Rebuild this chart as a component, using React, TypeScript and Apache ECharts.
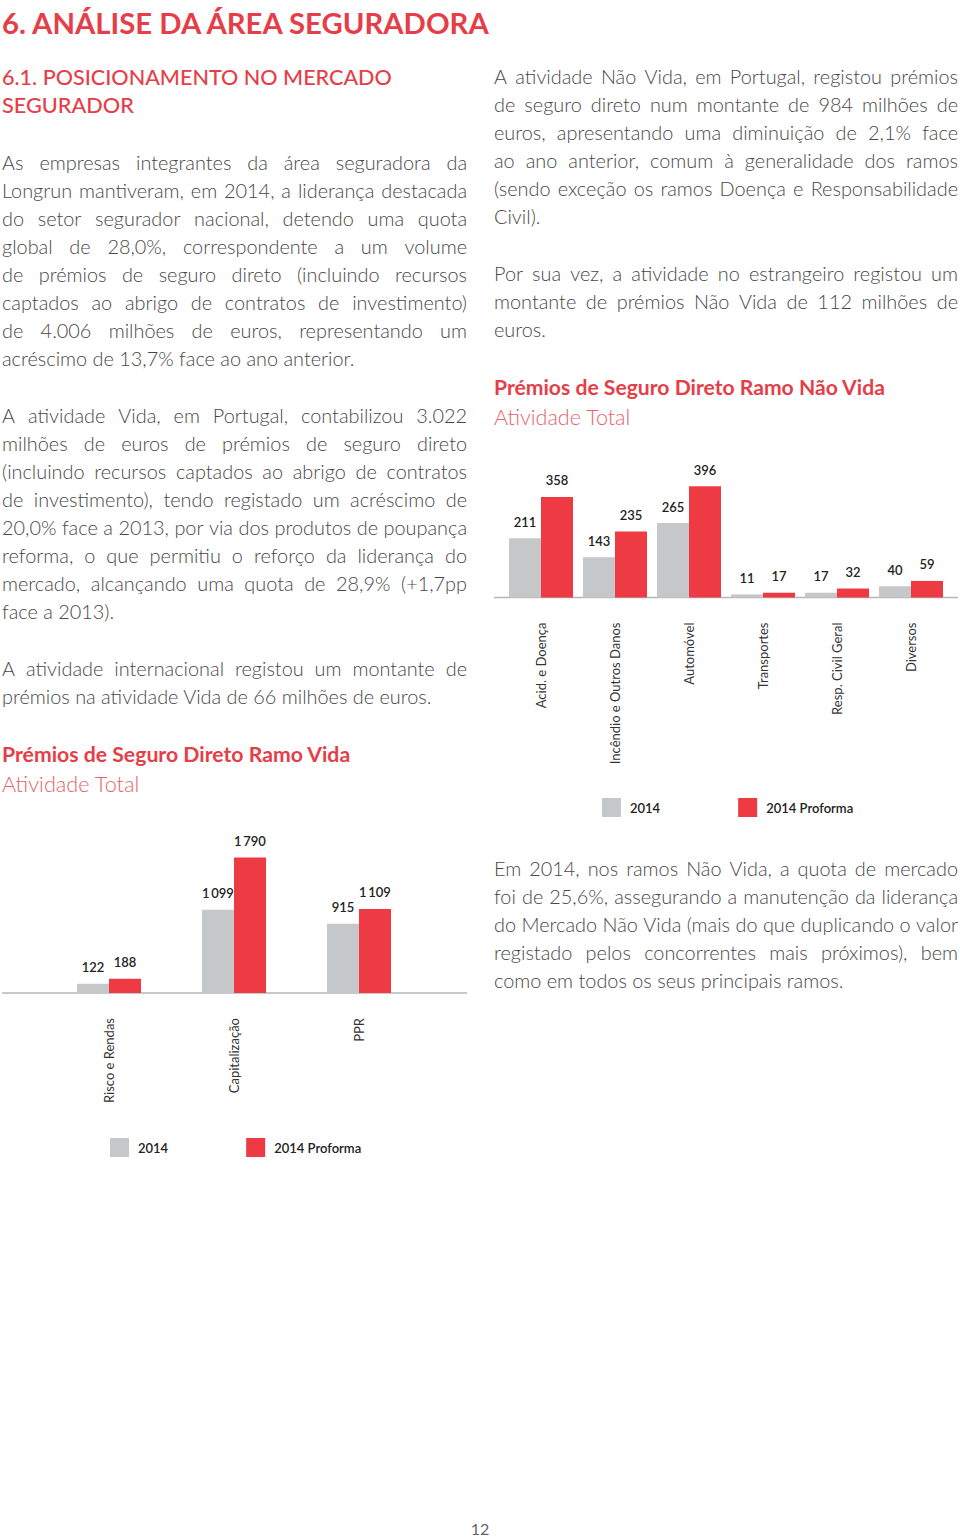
import React, { useEffect, useRef } from 'react';
import * as echarts from 'echarts';

// ---------- DATA ----------
const nonVidaCategories = ['Acid. e Doença', 'Incêndio e Outros Danos', 'Automóvel', 'Transportes', 'Resp. Civil Geral', 'Diversos'];
const nonVida2014 = [211, 143, 265, 11, 17, 40];
const nonVidaProforma = [358, 235, 396, 17, 32, 59];

const vidaCategories = ['Risco e Rendas', 'Capitalização', 'PPR'];
const vida2014 = [122, 1099, 915];
const vidaProforma = [188, 1790, 1109];

const seriesNames = ['2014', '2014 Proforma'];

// ---------- TEXT ----------
const leftP1 = [
  'As empresas integrantes da área seguradora da',
  'Longrun mantiveram, em 2014, a liderança destacada',
  'do setor segurador nacional, detendo uma quota',
  'global de 28,0%, correspondente a um volume',
  'de prémios de seguro direto (incluindo recursos',
  'captados ao abrigo de contratos de investimento)',
  'de 4.006 milhões de euros, representando um',
  'acréscimo de 13,7% face ao ano anterior.',
];
const leftP2 = [
  'A atividade Vida, em Portugal, contabilizou 3.022',
  'milhões de euros de prémios de seguro direto',
  '(incluindo recursos captados ao abrigo de contratos',
  'de investimento), tendo registado um acréscimo de',
  '20,0% face a 2013, por via dos produtos de poupança',
  'reforma, o que permitiu o reforço da liderança do',
  'mercado, alcançando uma quota de 28,9% (+1,7pp',
  'face a 2013).',
];
const leftP3 = [
  'A atividade internacional registou um montante de',
  'prémios na atividade Vida de 66 milhões de euros.',
];
const rightP1 = [
  'A atividade Não Vida, em Portugal, registou prémios',
  'de seguro direto num montante de 984 milhões de',
  'euros, apresentando uma diminuição de 2,1% face',
  'ao ano anterior, comum à generalidade dos ramos',
  '(sendo exceção os ramos Doença e Responsabilidade',
  'Civil).',
];
const rightP2 = [
  'Por sua vez, a atividade no estrangeiro registou um',
  'montante de prémios Não Vida de 112 milhões de',
  'euros.',
];
const rightP3 = [
  'Em 2014, nos ramos Não Vida, a quota de mercado',
  'foi de 25,6%, assegurando a manutenção da liderança',
  'do Mercado Não Vida (mais do que duplicando o valor',
  'registado pelos concorrentes mais próximos), bem',
  'como em todos os seus principais ramos.',
];

const FONT = 'Lato, "Noto Sans", sans-serif';
const RED = '#E63E48';
const RED_LIGHT = '#E8626B';
const BODY = '#484848';
const GREY_BAR = '#C6C7C9';
const RED_BAR = '#EE3B43';

const fmt = (n: number) =>
  n >= 1000 ? `${Math.floor(n / 1000)}\u2009${String(n % 1000).padStart(3, '0')}` : String(n);

export default function App() {
  const ref = useRef<HTMLDivElement>(null);

  useEffect(() => {
    if (!ref.current) return;
    const canvas = document.createElement('canvas');
    const ctx = canvas.getContext('2d')!;
    const measure = (t: string, size: number, weight: number | string) => {
      ctx.font = `${weight} ${size}px Lato`;
      return ctx.measureText(t).width;
    };

    const els: any[] = [];
    const textEl = (text: string, x: number, y: number, size: number, weight: number | string, color: string, align = 'left') => ({
      type: 'text',
      x,
      y,
      silent: true,
      style: { text, fill: color, fontSize: size, fontWeight: weight, fontFamily: FONT, textAlign: align, verticalAlign: 'middle' },
    });

    const fitText = (text: string, x: number, y: number, width: number, weight: number | string, color: string) => {
      const w = measure(text, 20, weight);
      const size = (20 * width) / w;
      els.push(textEl(text, x, y, size, weight, color));
    };

    const BODY_W = 300;
    // body font size chosen so that the densest justified line fits with natural spacing
    const allBlocks: [string[], number][] = [
      [leftP1, 465], [leftP2, 465], [leftP3, 465], [rightP1, 464], [rightP2, 464], [rightP3, 464],
    ];
    let bodySize = 30;
    allBlocks.forEach(([lines, W]) => {
      lines.slice(0, -1).forEach((l) => {
        const s = (20 * W) / measure(l, 20, BODY_W);
        if (s < bodySize) bodySize = s;
      });
    });

    const paragraph = (lines: string[], x0: number, y0: number, W: number) => {
      const size = bodySize;
      const weight = BODY_W;
      lines.forEach((line, li) => {
        const y = y0 + li * 28;
        const last = li === lines.length - 1;
        if (last) {
          els.push(textEl(line, x0, y, size, weight, BODY));
          return;
        }
        const words = line.split(' ');
        const widths = words.map((w) => measure(w, size, weight));
        const total = widths.reduce((a, b) => a + b, 0);
        const gap = (W - total) / (words.length - 1);
        let x = x0;
        words.forEach((w, i) => {
          els.push(textEl(w, x, y, size, weight, BODY));
          x += widths[i] + gap;
        });
      });
    };

    // headings
    fitText('6. ANÁLISE DA ÁREA SEGURADORA', 2, 22, 491, 700, RED);
    fitText('6.1. POSICIONAMENTO NO MERCADO', 2, 77, 390, 500, RED);
    fitText('SEGURADOR', 2, 105, 132, 500, RED);

    paragraph(leftP1, 2, 162, 465);
    paragraph(leftP2, 2, 415, 465);
    paragraph(leftP3, 2, 668, 465);
    paragraph(rightP1, 494, 76, 464);
    paragraph(rightP2, 494, 273, 464);
    paragraph(rightP3, 494, 868, 464);

    fitText('Prémios de Seguro Direto Ramo Não Vida', 494, 387, 392, 700, RED);
    fitText('Atividade Total', 494, 417, 137, 300, RED_LIGHT);
    fitText('Prémios de Seguro Direto Ramo Vida', 2, 754, 349, 700, RED);
    fitText('Atividade Total', 2, 784, 138, 300, RED_LIGHT);

    // baselines
    els.push({ type: 'line', silent: true, shape: { x1: 494, y1: 597.5, x2: 958, y2: 597.5 }, style: { stroke: '#B5B6B8', lineWidth: 1.5 } });
    els.push({ type: 'line', silent: true, shape: { x1: 2, y1: 993, x2: 467, y2: 993 }, style: { stroke: '#B5B6B8', lineWidth: 1.5 } });

    els.push(textEl('12', 480, 1528, 16, 400, '#666', 'center'));

    const chart = echarts.init(ref.current, null, { renderer: 'svg' });

    const axisLabel = { rotate: 90, margin: 25, fontSize: 13, color: '#333', fontFamily: FONT, interval: 0 };
    const barLabel = {
      show: true,
      position: 'top',
      distance: 10,
      fontSize: 13,
      fontWeight: 600,
      color: '#222',
      fontFamily: FONT,
      formatter: (p: any) => fmt(p.value),
    };
    const legendBase = {
      icon: 'rect',
      itemWidth: 19,
      itemHeight: 19,
      itemGap: 78,
      data: seriesNames,
      selectedMode: false,
      textStyle: { fontSize: 13, fontWeight: 600, color: '#222', fontFamily: FONT, padding: [0, 0, 0, 4] },
    };

    chart.setOption({
      animation: false,
      graphic: { elements: els },
      legend: [
        { ...legendBase, left: 597, top: 793 },
        { ...legendBase, left: 105, top: 1133 },
      ],
      grid: [
        { left: 504, width: 444, top: 457, height: 140.5 },
        { left: 46.5, width: 375, top: 841.5, height: 151.5 },
      ],
      xAxis: [
        { type: 'category', gridIndex: 0, data: nonVidaCategories, axisLine: { show: false }, axisTick: { show: false }, axisLabel },
        { type: 'category', gridIndex: 1, data: vidaCategories, axisLine: { show: false }, axisTick: { show: false }, axisLabel },
      ],
      yAxis: [
        { type: 'value', gridIndex: 0, min: 0, max: 500, show: false, splitLine: { show: false } },
        { type: 'value', gridIndex: 1, min: 0, max: 2000, show: false, splitLine: { show: false } },
      ],
      series: [
        { name: seriesNames[0], type: 'bar', xAxisIndex: 0, yAxisIndex: 0, data: nonVida2014, barWidth: 32, barGap: '0%', itemStyle: { color: GREY_BAR }, label: barLabel },
        { name: seriesNames[1], type: 'bar', xAxisIndex: 0, yAxisIndex: 0, data: nonVidaProforma, barWidth: 32, barGap: '0%', itemStyle: { color: RED_BAR }, label: barLabel },
        { name: seriesNames[0], type: 'bar', xAxisIndex: 1, yAxisIndex: 1, data: vida2014, barWidth: 32, barGap: '0%', itemStyle: { color: GREY_BAR }, label: barLabel },
        { name: seriesNames[1], type: 'bar', xAxisIndex: 1, yAxisIndex: 1, data: vidaProforma, barWidth: 32, barGap: '0%', itemStyle: { color: RED_BAR }, label: barLabel },
      ],
    });

    return () => chart.dispose();
  }, []);

  return (
    <div
      ref={ref}
      style={{ position: 'absolute', left: 0, top: 0, width: 960, height: 1539, background: '#fff' }}
    />
  );
}
